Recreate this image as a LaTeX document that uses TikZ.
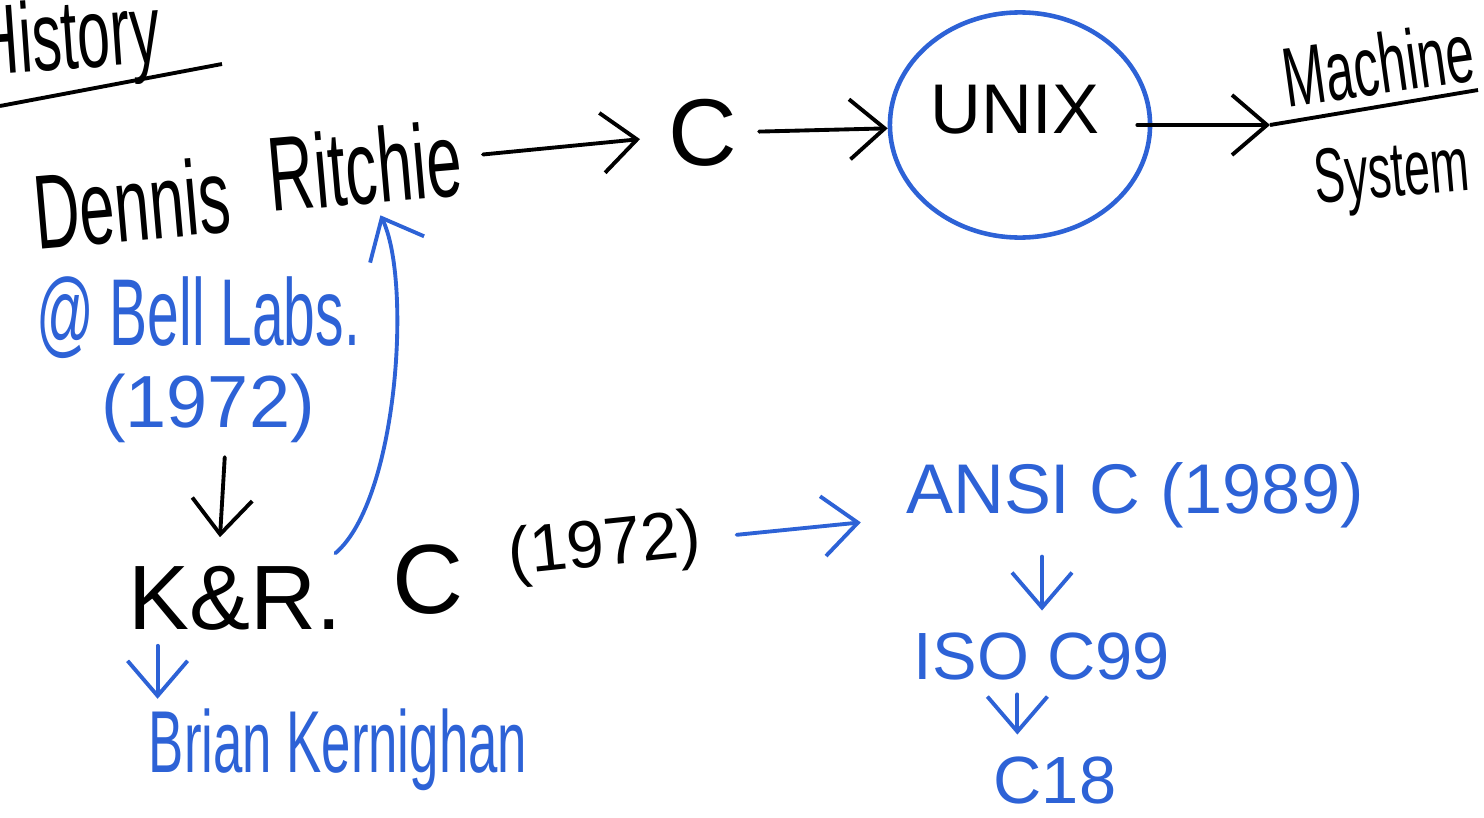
\documentclass[tikz,border=0pt]{standalone}
\usepackage{fontspec}
\usetikzlibrary{arrows.meta,positioning,calc,shapes.geometric}

\setmainfont{Liberation Sans}
\newfontfamily\penfont[FakeStretch=0.6]{Liberation Sans}
\newfontfamily\blockfont{Liberation Sans}
\definecolor{inkblue}{RGB}{45,98,214}

\tikzset{
  pen/.style={font=\penfont\fontsize{#1}{#1}\selectfont, inner sep=0pt},
  block/.style={font=\blockfont\fontsize{#1}{#1}\selectfont, inner sep=0pt},
  flow/.style={-{Straight Barb[length=3.5mm,width=6mm]}, line width=1.1pt, line cap=round},
}

\begin{document}
\begin{tikzpicture}[x=0.01cm, y=-0.01cm]
  \useasboundingbox (0,0) rectangle (1484,818);

  % heading
  \node[pen=28pt, anchor=west, rotate=4] (history) at (-24,50) {History};
  \coordinate (rule west) at (0,106);
  \coordinate (rule east) at (222,64);
  \draw[line width=1.1pt] (rule west) -- (rule east);

  % top row
  \node[pen=30pt, rotate=5] (dennis) at (132,203) {Dennis};
  \node[pen=30pt, rotate=5] (ritchie) at (365,166) {Ritchie};
  \node[block=27pt] (c) at (703,133) {C};
  \node[ellipse, draw=inkblue, line width=1.3pt, minimum width=2.6cm,
        minimum height=2.25cm] (unix) at (1020,125) {};
  \node[block=20pt] (unixname) at (1015,110) {UNIX};
  \node[pen=24pt, rotate=8] (machine) at (1378,64) {Machine};
  \node[pen=22pt, rotate=5] (system) at (1392,178) {System};
  \coordinate (bar west) at (1270,125);
  \coordinate (bar east) at (1478,90);
  \draw[line width=1.1pt] (bar west) -- (bar east);

  \draw[flow, shorten <=6pt, shorten >=8pt] (ritchie) -- (c);
  \draw[flow, shorten <=6pt] (c) -- (unix);
  \draw[flow] ([xshift=-0.15cm]unix.east) -- (bar west);

  % lower left
  \node[pen=27pt, text=inkblue] (bell) at (198,318) {@ Bell Labs.};
  \node[block=21pt, text=inkblue] (bellyear) at (208,408) {(1972)};
  \node[block=26pt] (kr) at (235,598) {K\&R.};
  \node[block=28pt] (krc) at (428,580) {C};
  \node[block=19pt, rotate=6] (kryear) at (605,548) {(1972)};
  \node[pen=25pt, text=inkblue] (brian) at (338,750) {Brian Kernighan};

  \draw[flow, shorten <=4pt] ([xshift=5]bellyear.south) -- ($(kr.north)+(-15,-28)$);
  \draw[flow, inkblue] ($(kr.north east)+(-7,-12)$)
    .. controls (398,500) and (412,280) .. ($(ritchie.south)+(12,10)$);
  \draw[flow, inkblue] ($(kr.south west)+(30,15)$) -- ($(kr.south west)+(30,68)$);

  % lower right
  \node[block=20pt, text=inkblue] (ansi) at (1135,495) {ANSI C (1989)};
  \node[block=19pt, text=inkblue] (iso) at (1042,656) {ISO C99};
  \node[block=19pt, text=inkblue] (c18) at (1055,780) {C18};

  \draw[flow, inkblue, shorten <=0.35cm, shorten >=0.45cm] (kryear) -- (ansi);
  \draw[flow, inkblue, shorten <=8pt, shorten >=6pt] (ansi.south -| iso.north) -- (iso.north);
  \draw[flow, inkblue, shorten <=4pt, shorten >=6pt] ([xshift=-7]iso.south) -- ([xshift=-7]iso.south |- c18.north);
\end{tikzpicture}
\end{document}
